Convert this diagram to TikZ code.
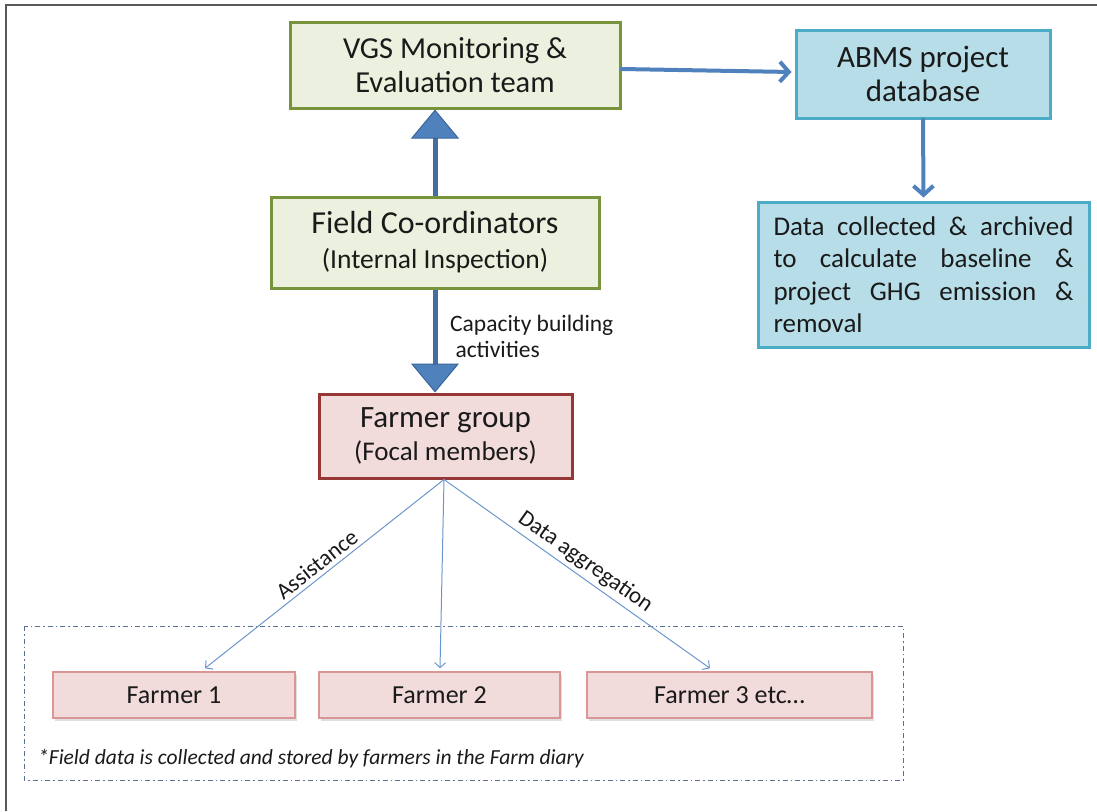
\documentclass[tikz,border=0pt]{standalone}
\usepackage{fontspec}
\setmainfont{Carlito}
\usetikzlibrary{arrows.meta,shadows,calc}
\definecolor{grfill}{HTML}{EBF1DE}
\definecolor{grline}{HTML}{77933C}
\definecolor{blfill}{HTML}{B7DEE8}
\definecolor{blline}{HTML}{4BACC6}
\definecolor{rdfill}{HTML}{F2DCDB}
\definecolor{rdline}{HTML}{953735}
\definecolor{rdlight}{HTML}{D99694}
\definecolor{arrblue}{HTML}{4F81BD}
\definecolor{arrdark}{HTML}{3A659A}
\definecolor{thinblue}{HTML}{6B96CD}
\definecolor{dashcol}{HTML}{5A7090}
\definecolor{txt}{HTML}{1A1A1A}
\tikzset{
  greenbox/.style={draw=grline, fill=grfill, line width=3pt, inner sep=0pt, align=center, text=txt},
  bluebox/.style={draw=blline, fill=blfill, line width=3pt, inner sep=0pt, text=txt},
  redbox/.style={draw=rdline, fill=rdfill, line width=3pt, inner sep=0pt, align=center, text=txt},
  farmerbox/.style={draw=rdlight, fill=rdfill, line width=1.5pt, minimum height=46pt, inner sep=0pt, text=txt,
    font=\fontsize{26}{30}\selectfont, drop shadow={opacity=0.25, shadow xshift=2pt, shadow yshift=-3pt}},
  bigarrow/.style={draw=arrblue!85!black, line width=5pt,
    -{Triangle[width=48pt, length=29pt, fill=arrblue, color=arrdark, line width=1pt]}},
  medarrow/.style={draw=arrblue, line width=4pt, line cap=round,
    -{Straight Barb[length=9pt, width=20pt, line width=4pt]}},
  thinarrow/.style={draw=thinblue, line width=1pt, -{Straight Barb[length=5pt, width=11pt, line width=1pt]}},
  lbl/.style={text=txt, font=\fontsize{23}{27}\selectfont},
}
\newcommand{\jline}[1]{\makebox[300pt][s]{#1}}
\begin{document}
\begin{tikzpicture}[x=1pt, y=-1pt]
\useasboundingbox (0,0) rectangle (1097,811);
\draw[line width=2pt, color=black!65] (6,811) -- (6,5) -- (1097,5);

\node[greenbox, minimum width=330pt, minimum height=86pt, font=\fontsize{30.5}{34}\selectfont] (vgs) at (455,65)
  {VGS Monitoring \&\\Evaluation team};
\node[bluebox, align=center, minimum width=254pt, minimum height=88pt, font=\fontsize{31}{34}\selectfont] (abms) at (923,74)
  {ABMS project\\database};
\node[bluebox, align=left, minimum width=331pt, minimum height=145pt, font=\fontsize{27}{32.5}\selectfont] (data) at (923.5,274.5)
  {\jline{Data collected \& archived}\\\jline{to calculate baseline \&}\\\jline{project GHG emission \&}\\removal\hspace*{208pt}};
\node[greenbox, minimum width=328pt, minimum height=91pt, font=\fontsize{32}{35}\selectfont] (field) at (435,242.5)
  {Field Co-ordinators\\{\fontsize{27.5}{35}\selectfont (Internal Inspection)}};
\node[redbox, minimum width=253pt, minimum height=84pt, font=\fontsize{31}{33}\selectfont] (fg) at (445.5,436)
  {Farmer group\\{\fontsize{27}{33}\selectfont (Focal members)}};

\draw[dashcol, line width=1pt, dash pattern=on 5pt off 3pt on 1.5pt off 3pt] (24,626) rectangle (903,780);

\node[farmerbox, minimum width=242pt] (f1) at (174,695) {Farmer 1};
\node[farmerbox, minimum width=241pt] (f2) at (439.5,695) {Farmer 2};
\node[farmerbox, minimum width=285pt] (f3) at (729.5,695) {Farmer 3 etc…};

\node[anchor=base west, inner sep=0pt, text=txt, font=\itshape\fontsize{21.5}{24}\selectfont] (note) at (38,764)
  {*Field data is collected and stored by farmers in the Farm diary};

\draw[bigarrow] (field.north) -- (field.north |- vgs.south);
\draw[bigarrow] (field.south) -- (field.south |- fg.north);
\node[lbl, anchor=base west, align=left, inner sep=0pt, font=\fontsize{23.5}{26}\selectfont] (cap) at (450,357)
  {Capacity building\\\ activities};

\draw[medarrow] ($(vgs.east)+(0,4)$) -- ($(abms.west)+(-3,-2)$);
\draw[medarrow] (abms.south) -- ($(data.north)+(0,-3)$);

\coordinate (e1) at ($(f1.north)+(31,-3)$);
\coordinate (e2) at ($(f2.north)+(0.5,-3)$);
\coordinate (e3) at ($(f3.north)+(-19.5,-3)$);
\draw[thinarrow] ($(fg.south)+(-1.5,0)$) -- (e1) node[lbl, midway, sloped, above, inner sep=4pt] {Assistance};
\draw[thinarrow] ($(fg.south)+(-1.5,0)$) -- (e2);
\draw[thinarrow] ($(fg.south)+(-1.5,0)$) -- (e3) node[lbl, midway, sloped, above, inner sep=4pt] {Data aggregation};
\end{tikzpicture}
\end{document}
